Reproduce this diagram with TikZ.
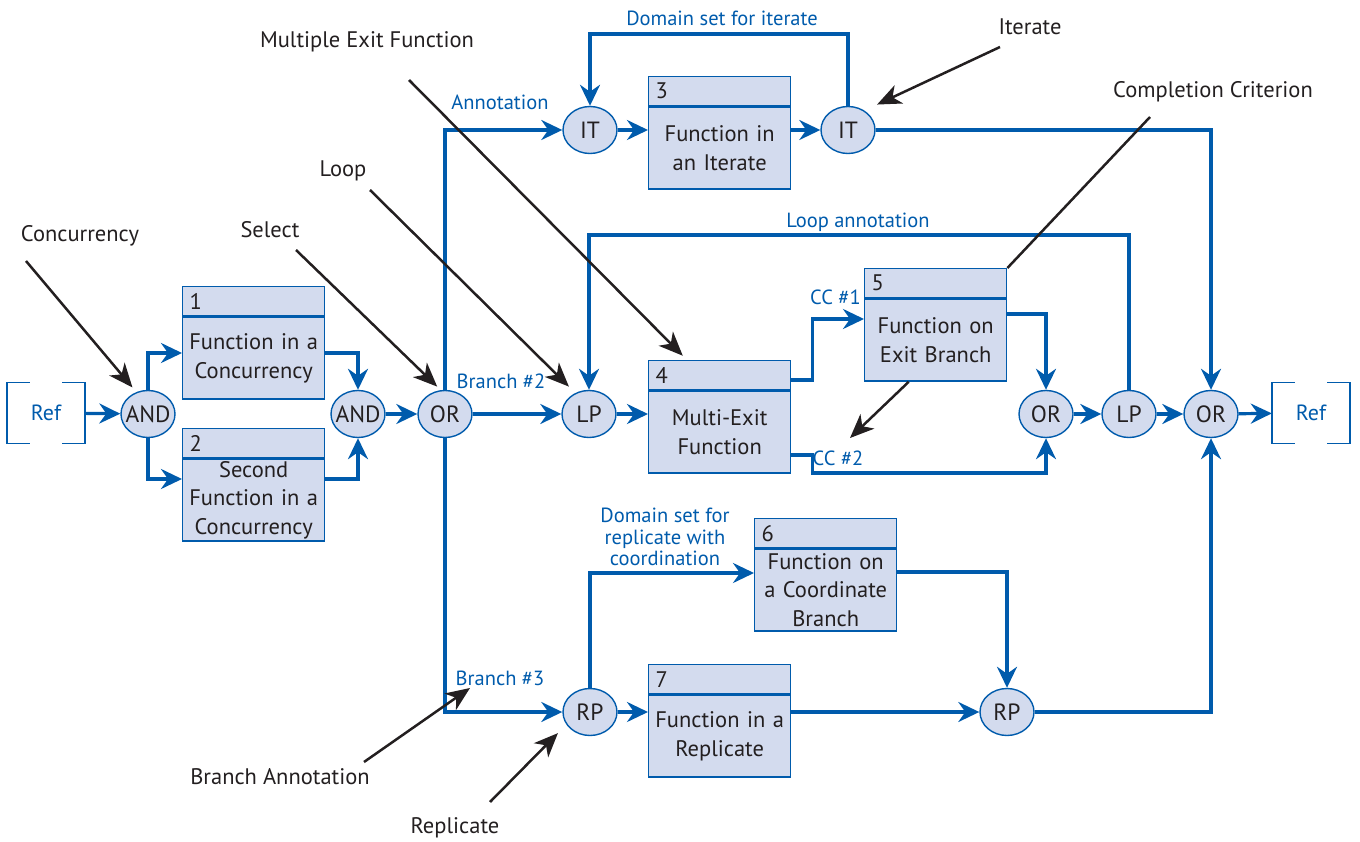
\documentclass[tikz,border=0pt]{standalone}
\usepackage{fontspec}
\setmainfont{PT Sans}
\usetikzlibrary{arrows.meta,shapes.geometric,positioning}
\definecolor{flowblue}{HTML}{005BAC}
\definecolor{boxfill}{HTML}{D3DBEE}
\definecolor{inkblack}{HTML}{231F20}
\tikzset{
	flow/.style={draw=flowblue,line width=3.2pt,-{Stealth[length=21pt,width=20pt,inset=7pt]}},
	refline/.style={draw=flowblue,line width=1.5pt},
	callout/.style={draw=inkblack,line width=2.5pt,-{Stealth[length=24pt,width=20pt,inset=7pt]}},
	gate/.style={ellipse,draw=flowblue,line width=1.4pt,fill=boxfill,minimum width=54pt,minimum height=47pt,inner xsep=-7pt,inner ysep=0pt,text=inkblack,font=\fontsize{23.5}{26}\selectfont},
	fnhead/.style={rectangle,draw=flowblue,line width=1.4pt,fill=boxfill,minimum width=142pt,minimum height=29pt,text width=128pt,inner xsep=7pt,inner ysep=0pt,align=left,anchor=north west,text=inkblack,font=\fontsize{22.5}{26}\selectfont},
	fnbody/.style={rectangle,draw=flowblue,line width=1.4pt,fill=boxfill,minimum width=142pt,minimum height=82pt,text width=140pt,inner xsep=1pt,inner ysep=0pt,align=center,anchor=north,text=inkblack,font=\fontsize{22.5}{28.5}\selectfont},
	note/.style={text=inkblack,inner sep=0pt,font=\fontsize{22.5}{27}\selectfont},
	tag/.style={text=flowblue,inner sep=0pt,align=center,font=\fontsize{20.5}{21.5}\selectfont}
}
\begin{document}
\begin{tikzpicture}[x=1pt,y=-1pt]
	\useasboundingbox (0,0) rectangle (1360,842);
	
	% Gates
	\foreach \n/\txt/\x/\y in {and1/AND/148/414, and2/AND/358/414, or1/OR/445/414, it1/IT/590/130, it2/IT/848/130, lp1/LP/589/414, or2/OR/1046/414, lp2/LP/1129/414, or3/OR/1211/414, rp1/RP/590/712, rp2/RP/1007/712}
	\node[gate] (\n) at (\x,\y) {\txt};
	
	% Function boxes
	\foreach \n/\x/\y/\txt in {1/182/286/{Function in a\\Concurrency}, 2/182/428/{Second\\Function in a\\Concurrency}, 3/648/76/{Function in\\an Iterate}, 4/648/360/{Multi-Exit\\Function}, 5/864/268/{Function on\\Exit Branch}, 6/754/518/{Function on\\a Coordinate\\Branch}, 7/648/664/{Function in a\\Replicate}}
	{
		\node[fnhead] (h\n) at (\x,\y) {\n};
		\node[fnbody] (f\n) at (h\n.south) {\txt};
	}
	
	% Refs
	\node[tag,minimum width=78pt,minimum height=61pt,font=\fontsize{22}{26}\selectfont] (ref1) at (46,413) {Ref};
	\node[tag,minimum width=78pt,minimum height=61pt,font=\fontsize{22}{26}\selectfont] (ref2) at (1311,413) {Ref};
	\foreach \r in {ref1,ref2}
	{
		\draw[refline] ([xshift=23pt]\r.north west) -| (\r.south west) -- ++(23,0);
		\draw[refline] ([xshift=-23pt]\r.north east) -| (\r.south east) -- ++(-23,0);
	}
	
	% Concurrency and select
	\draw[flow] (ref1) -- (and1);
	\draw[flow] (and1) |- (f1.west |- 0,353);
	\draw[flow] (f1.east |- 0,353) -| (and2);
	\draw[flow] (and1) |- (f2.west |- 0,479);
	\draw[flow] (f2.east |- 0,479) -| (and2);
	\draw[flow] (and2) -- (or1);
	\draw[flow] (or1) |- (it1);
	\draw[flow] (or1) -- (lp1);
	\draw[flow] (or1) |- (rp1);
	
	% Iterate
	\draw[flow] (it1) -- (it1 -| f3.west);
	\draw[flow] (it1 -| f3.east) -- (it2);
	\draw[flow] (it2.north) -- (it2.north |- 0,34) -| (it1.north);
	\draw[flow] (it2) -| (or3);
	
	% Loop with multi-exit function
	\draw[flow] (lp1) -- (lp1 -| f4.west);
	\draw[flow] (f4.east |- 0,380) -- ++(21,0) |- (f5.west |- 0,319);
	\draw[flow] (f4.east |- 0,455) -- ++(21,0) -- ++(0,18) -| (or2);
	\draw[flow] (f5.east |- 0,314) -| (or2);
	\draw[flow] (or2) -- (lp2);
	\draw[flow] (lp2.north) -- (lp2.north |- 0,235) -| (lp1.north);
	\draw[flow] (lp2) -- (or3);
	\draw[flow] (or3) -- (ref2);
	
	% Replicate
	\draw[flow] (rp1) -- (rp1 -| f7.west);
	\draw[flow] (rp1 -| f7.east) -- (rp2);
	\draw[flow] (rp1) |- (f6.west |- 0,573);
	\draw[flow] (f6.east |- 0,572) -| (rp2);
	\draw[flow] (rp2) -| (or3);
	
	% Blue annotations
	\node[tag] (tDomIt) at (722,18) {Domain set for iterate};
	\node[tag] (tAnno) at (500,102) {Annotation};
	\node[tag] (tBr2) at (501,381) {Branch \#2};
	\node[tag] (tLoopA) at (858,222) {Loop annotation};
	\node[tag,anchor=east] (tCC1) at (861,297) {CC \#1};
	\node[tag] (tCC2) at (838,458) {CC \#2};
	\node[tag] (tDomRp) at (665,537) {Domain set for\\replicate with\\coordination};
	\node[tag] (tBr3) at (500,678) {Branch \#3};
	
	% Callout labels
	\node[note] (tConc) at (80,236) {Concurrency};
	\node[note] (tSel) at (270,230) {Select};
	\node[note] (tLoop) at (343,171) {Loop};
	\node[note] (tMef) at (367,42) {Multiple Exit Function};
	\node[note] (tIter) at (1030,27) {Iterate};
	\node[note] (tComp) at (1213,92) {Completion Criterion};
	\node[note] (tBrAn) at (280,777) {Branch Annotation};
	\node[note] (tRep) at (455,828) {Replicate};
	
	% Callout arrows
	\coordinate (cConc) at (26,261);
	\coordinate (cSel) at (296,250);
	\coordinate (cLoop) at (370,190);
	\coordinate (cMef) at (409,80);
	\coordinate (cIter) at (1000,47);
	\coordinate (cComp) at (1150,117);
	\coordinate (cBrAn) at (364,762);
	\coordinate (cBrTip) at (470,688);
	\coordinate (cRep) at (490,802);
	\coordinate (cCCTip) at (850,438);
	\draw[callout,shorten >=6pt] (cConc) -- (and1.118);
	\draw[callout,shorten >=5pt] (cSel) -- (or1.100);
	\draw[callout,shorten >=9pt] (cLoop) -- (lp1.123);
	\draw[callout,shorten >=6pt] (cMef) -- ([xshift=39pt]h4.north west);
	\draw[callout,shorten >=14pt] (cIter) -- (it2.50);
	\draw[draw=inkblack,line width=2.5pt] (cComp) -- (h5.north east);
	\draw[callout] ([xshift=-27pt]f5.south) -- (cCCTip);
	\draw[callout] (cBrAn) -- (cBrTip);
	\draw[callout,shorten >=12pt] (cRep) -- (rp1.208);
\end{tikzpicture}
\end{document}
